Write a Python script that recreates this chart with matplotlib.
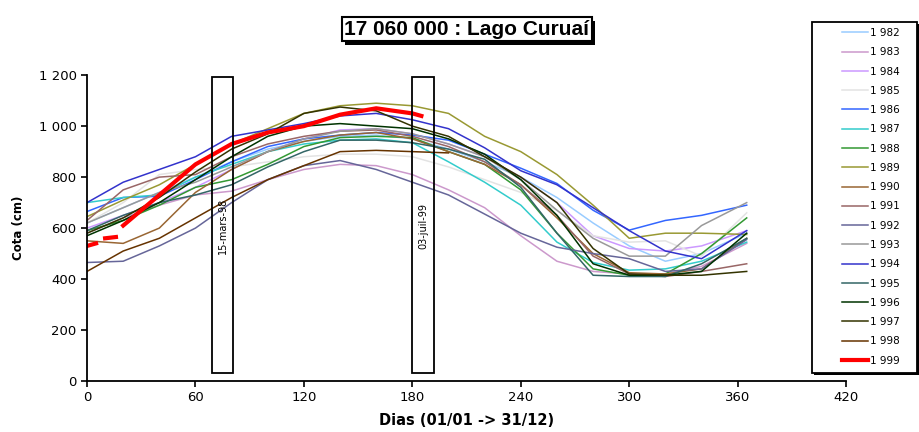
import numpy as np
import matplotlib
matplotlib.use("Agg")
import matplotlib.pyplot as plt
from matplotlib.patches import Rectangle
import matplotlib.patheffects as pe

plt.rcParams['font.family'] = ['DejaVu Sans']

days = [0, 20, 40, 60, 80, 100, 120, 140, 160, 180, 200, 220, 240, 260, 280, 300, 320, 340, 365]
nan = np.nan

c1982 = [620, 680, 740, 800, 860, 910, 940, 960, 965, 950, 910, 860, 800, 720, 620, 530, 470, 500, 580]
c1983 = [580, 640, 690, 730, 745, 790, 830, 850, 845, 810, 750, 680, 570, 470, 430, 420, 420, 450, 540]
c1984 = [600, 650, 700, 760, 830, 900, 950, 985, 990, 970, 930, 880, 800, 700, 570, 520, 510, 530, 590]
c1985 = [620, 700, 810, 830, 840, 860, 880, 890, 890, 880, 840, 790, 740, 670, 570, 545, 550, 490, 660]
c1986 = [665, 720, 725, 790, 860, 920, 950, 965, 975, 965, 945, 890, 835, 775, 670, 592, 630, 650, 690]
c1987 = [700, 720, 730, 800, 850, 900, 930, 945, 950, 935, 860, 780, 690, 545, 465, 435, 440, 470, 545]
c1988 = [590, 630, 690, 760, 790, 850, 920, 955, 960, 955, 900, 850, 750, 580, 440, 415, 420, 500, 640]
c1989 = [645, 710, 770, 850, 930, 990, 1050, 1080, 1090, 1080, 1050, 960, 900, 810, 690, 560, 580, 580, 575]
c1990 = [550, 540, 600, 740, 830, 900, 940, 965, 975, 950, 900, 850, 770, 640, 500, 425, 420, 440, 560]
c1991 = [630, 750, 800, 810, 880, 930, 960, 980, 985, 960, 920, 860, 770, 650, 490, 420, 410, 430, 460]
c1992 = [465, 470, 530, 600, 700, 790, 845, 865, 830, 780, 730, 655, 580, 525, 500, 480, 430, 440, 555]
c1993 = [620, 680, 740, 780, 840, 900, 950, 980, 990, 970, 930, 880, 790, 670, 560, 490, 490, 610, 700]
c1994 = [700, 780, 830, 880, 960, 985, 1010, 1040, 1050, 1025, 990, 915, 825, 770, 680, 590, 510, 480, 590]
c1995 = [590, 650, 700, 730, 770, 840, 900, 945, 945, 935, 910, 870, 760, 580, 415, 410, 410, 460, 560]
c1996 = [570, 630, 700, 790, 880, 960, 1000, 1010, 1000, 990, 950, 890, 790, 650, 460, 415, 415, 430, 580]
c1997 = [580, 640, 720, 820, 910, 970, 1050, 1075, 1060, 1000, 960, 880, 800, 700, 520, 420, 415, 415, 430]
c1998 = [430, 510, 560, 640, 720, 790, 845, 900, 905, 900, 895, nan, nan, nan, nan, nan, nan, nan, nan]

# 1999 only runs to early July, with a couple of gaps at the start
days_1999 = [0, 5, 6, 10, 16, 17, 20, 40, 60, 80, 100, 120, 140, 160, 180, 185]
c1999 = [530, 540, nan, 560, 565, nan, 610, 730, 850, 930, 975, 1000, 1045, 1070, 1050, 1040]

years = ["1 982", "1 983", "1 984", "1 985", "1 986", "1 987", "1 988", "1 989", "1 990",
         "1 991", "1 992", "1 993", "1 994", "1 995", "1 996", "1 997", "1 998"]
series = [c1982, c1983, c1984, c1985, c1986, c1987, c1988, c1989, c1990,
          c1991, c1992, c1993, c1994, c1995, c1996, c1997, c1998]
colors = ["#99ccff", "#cc99cc", "#cc99ff", "#e3e3e3", "#3366ff", "#33cccc", "#339933",
          "#999933", "#996633", "#996666", "#666699", "#999999", "#3333cc", "#336666",
          "#003300", "#333300", "#663300"]

marks = [("15-mars-98", 75), ("03-juil-99", 186)]

fig = plt.figure(figsize=(9.19, 4.32), dpi=100)
ax = fig.add_axes([0.0947, 0.118, 0.826, 0.708])

for lab, vals, col in zip(years, series, colors):
    ax.plot(days, vals, color=col, lw=1.1, label=lab)
ax.plot(days_1999, c1999, color="#ff0000", lw=3.0, label="1 999")

for txt, d in marks:
    ax.add_patch(Rectangle((d - 6, 30), 12, 1162, fill=False, ec='black', lw=1.3, zorder=5))
    ax.text(d, 610, txt, rotation=90, ha='center', va='center', fontsize=7, zorder=6)

ax.set_xlim(0, 420)
ax.set_ylim(0, 1200)
ax.set_xticks(range(0, 421, 60))
ax.set_yticks(range(0, 1201, 200))
ax.set_yticklabels(["0", "200", "400", "600", "800", "1 000", "1 200"])
ax.spines['top'].set_visible(False)
ax.spines['right'].set_visible(False)
ax.spines['left'].set_linewidth(1.3)
ax.spines['bottom'].set_linewidth(1.3)
ax.tick_params(labelsize=9.5, length=4, width=1.2)
ax.set_xlabel("Dias (01/01 -> 31/12)", fontsize=10.5, fontweight='bold', labelpad=6)
ax.set_ylabel("Cota (cm)", fontsize=8.5, fontweight='bold', labelpad=10)

# title box with a black drop shadow
t = fig.text(0.508, 0.932, "17 060 000 : Lago Curuaí", ha='center', va='center',
             fontsize=15, fontweight='bold', family='Liberation Sans',
             bbox=dict(boxstyle='square,pad=0.12', fc='white', ec='black', lw=1.5))
t.get_bbox_patch().set_path_effects([pe.SimplePatchShadow(offset=(2.5, -2.5), shadow_rgbFace='black', alpha=1),
                                     pe.Normal()])

# legend box drawn by hand so it can sit right of the axes
box = Rectangle((812 / 919, 1 - 373 / 432), 105 / 919, 351 / 432, transform=fig.transFigure,
                fc='white', ec='black', lw=1.3)
box.set_path_effects([pe.SimplePatchShadow(offset=(1.2, -1.2), shadow_rgbFace='black', alpha=1), pe.Normal()])
fig.add_artist(box)

leg = fig.legend(loc='upper left', bbox_to_anchor=(842 / 919, 1 - 28 / 432), fontsize=7.5,
                 frameon=False, labelspacing=0.89, handlelength=2.5, handletextpad=0.15,
                 borderpad=0, borderaxespad=0)
leg.set_zorder(5)

plt.savefig("out.png", dpi=100)
